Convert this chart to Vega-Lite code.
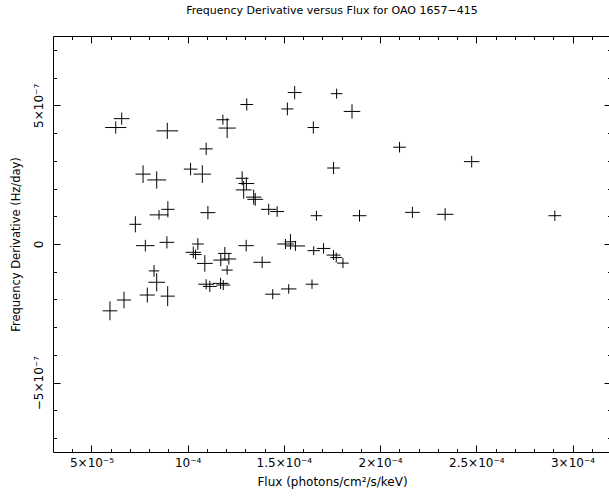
{
  "$schema": "https://vega.github.io/schema/vega-lite/v6.json",
  "width": 558,
  "height": 416,
  "autosize": {"type": "none"},
  "padding": {"left": 53, "top": 36, "right": 0, "bottom": 45},
  "background": "white",
  "title": {"text": "Frequency Derivative versus Flux for OAO 1657−415", "font": "DejaVu Sans", "fontSize": 11, "fontWeight": "normal", "color": "black", "anchor": "middle", "offset": 20},
  "config": {"view": {"stroke": null}},
  "data": {"values": [
    {"flux": 6.57e-5, "dflux": 0.41e-5, "fdot": 4.52e-7, "dfdot": 0.22e-7},
    {"flux": 6.26e-5, "dflux": 0.55e-5, "fdot": 4.20e-7, "dfdot": 0.22e-7},
    {"flux": 8.94e-5, "dflux": 0.56e-5, "fdot": 4.08e-7, "dfdot": 0.29e-7},
    {"flux": 7.68e-5, "dflux": 0.39e-5, "fdot": 2.52e-7, "dfdot": 0.32e-7},
    {"flux": 8.39e-5, "dflux": 0.49e-5, "fdot": 2.31e-7, "dfdot": 0.31e-7},
    {"flux": 10.15e-5, "dflux": 0.35e-5, "fdot": 2.70e-7, "dfdot": 0.22e-7},
    {"flux": 8.97e-5, "dflux": 0.34e-5, "fdot": 1.25e-7, "dfdot": 0.29e-7},
    {"flux": 8.51e-5, "dflux": 0.49e-5, "fdot": 1.05e-7, "dfdot": 0.17e-7},
    {"flux": 7.28e-5, "dflux": 0.31e-5, "fdot": 0.71e-7, "dfdot": 0.29e-7},
    {"flux": 11.83e-5, "dflux": 0.33e-5, "fdot": 4.48e-7, "dfdot": 0.18e-7},
    {"flux": 12.05e-5, "dflux": 0.45e-5, "fdot": 4.18e-7, "dfdot": 0.36e-7},
    {"flux": 10.96e-5, "dflux": 0.34e-5, "fdot": 3.43e-7, "dfdot": 0.22e-7},
    {"flux": 10.76e-5, "dflux": 0.45e-5, "fdot": 2.52e-7, "dfdot": 0.32e-7},
    {"flux": 15.56e-5, "dflux": 0.36e-5, "fdot": 5.46e-7, "dfdot": 0.24e-7},
    {"flux": 17.74e-5, "dflux": 0.30e-5, "fdot": 5.42e-7, "dfdot": 0.18e-7},
    {"flux": 13.07e-5, "dflux": 0.33e-5, "fdot": 5.03e-7, "dfdot": 0.22e-7},
    {"flux": 15.18e-5, "dflux": 0.31e-5, "fdot": 4.87e-7, "dfdot": 0.23e-7},
    {"flux": 18.54e-5, "dflux": 0.43e-5, "fdot": 4.78e-7, "dfdot": 0.26e-7},
    {"flux": 16.53e-5, "dflux": 0.30e-5, "fdot": 4.20e-7, "dfdot": 0.22e-7},
    {"flux": 21.01e-5, "dflux": 0.33e-5, "fdot": 3.49e-7, "dfdot": 0.19e-7},
    {"flux": 17.58e-5, "dflux": 0.33e-5, "fdot": 2.74e-7, "dfdot": 0.22e-7},
    {"flux": 12.83e-5, "dflux": 0.33e-5, "fdot": 2.37e-7, "dfdot": 0.25e-7},
    {"flux": 13.05e-5, "dflux": 0.41e-5, "fdot": 2.18e-7, "dfdot": 0.22e-7},
    {"flux": 12.91e-5, "dflux": 0.41e-5, "fdot": 1.95e-7, "dfdot": 0.32e-7},
    {"flux": 13.43e-5, "dflux": 0.40e-5, "fdot": 1.69e-7, "dfdot": 0.27e-7},
    {"flux": 13.51e-5, "dflux": 0.41e-5, "fdot": 1.61e-7, "dfdot": 0.23e-7},
    {"flux": 14.21e-5, "dflux": 0.40e-5, "fdot": 1.25e-7, "dfdot": 0.20e-7},
    {"flux": 14.65e-5, "dflux": 0.36e-5, "fdot": 1.17e-7, "dfdot": 0.19e-7},
    {"flux": 11.05e-5, "dflux": 0.39e-5, "fdot": 1.13e-7, "dfdot": 0.24e-7},
    {"flux": 16.69e-5, "dflux": 0.30e-5, "fdot": 1.02e-7, "dfdot": 0.18e-7},
    {"flux": 18.93e-5, "dflux": 0.36e-5, "fdot": 1.02e-7, "dfdot": 0.21e-7},
    {"flux": 24.76e-5, "dflux": 0.40e-5, "fdot": 2.97e-7, "dfdot": 0.21e-7},
    {"flux": 21.68e-5, "dflux": 0.38e-5, "fdot": 1.14e-7, "dfdot": 0.20e-7},
    {"flux": 23.38e-5, "dflux": 0.43e-5, "fdot": 1.07e-7, "dfdot": 0.22e-7},
    {"flux": 29.08e-5, "dflux": 0.33e-5, "fdot": 1.02e-7, "dfdot": 0.19e-7},
    {"flux": 7.80e-5, "dflux": 0.48e-5, "fdot": -0.06e-7, "dfdot": 0.21e-7},
    {"flux": 8.92e-5, "dflux": 0.38e-5, "fdot": 0.06e-7, "dfdot": 0.22e-7},
    {"flux": 10.53e-5, "dflux": 0.31e-5, "fdot": 0.00e-7, "dfdot": 0.21e-7},
    {"flux": 10.29e-5, "dflux": 0.40e-5, "fdot": -0.30e-7, "dfdot": 0.21e-7},
    {"flux": 10.41e-5, "dflux": 0.31e-5, "fdot": -0.38e-7, "dfdot": 0.18e-7},
    {"flux": 10.89e-5, "dflux": 0.41e-5, "fdot": -0.70e-7, "dfdot": 0.30e-7},
    {"flux": 11.93e-5, "dflux": 0.35e-5, "fdot": -0.34e-7, "dfdot": 0.23e-7},
    {"flux": 11.72e-5, "dflux": 0.39e-5, "fdot": -0.58e-7, "dfdot": 0.22e-7},
    {"flux": 12.14e-5, "dflux": 0.38e-5, "fdot": -0.54e-7, "dfdot": 0.20e-7},
    {"flux": 12.05e-5, "dflux": 0.29e-5, "fdot": -0.94e-7, "dfdot": 0.17e-7},
    {"flux": 13.04e-5, "dflux": 0.40e-5, "fdot": -0.06e-7, "dfdot": 0.21e-7},
    {"flux": 13.87e-5, "dflux": 0.45e-5, "fdot": -0.66e-7, "dfdot": 0.21e-7},
    {"flux": 8.25e-5, "dflux": 0.27e-5, "fdot": -0.97e-7, "dfdot": 0.21e-7},
    {"flux": 8.39e-5, "dflux": 0.43e-5, "fdot": -1.38e-7, "dfdot": 0.33e-7},
    {"flux": 7.90e-5, "dflux": 0.39e-5, "fdot": -1.84e-7, "dfdot": 0.27e-7},
    {"flux": 8.96e-5, "dflux": 0.37e-5, "fdot": -1.88e-7, "dfdot": 0.36e-7},
    {"flux": 6.69e-5, "dflux": 0.36e-5, "fdot": -2.02e-7, "dfdot": 0.30e-7},
    {"flux": 5.96e-5, "dflux": 0.38e-5, "fdot": -2.41e-7, "dfdot": 0.34e-7},
    {"flux": 10.96e-5, "dflux": 0.41e-5, "fdot": -1.45e-7, "dfdot": 0.18e-7},
    {"flux": 11.15e-5, "dflux": 0.36e-5, "fdot": -1.53e-7, "dfdot": 0.20e-7},
    {"flux": 11.71e-5, "dflux": 0.41e-5, "fdot": -1.42e-7, "dfdot": 0.20e-7},
    {"flux": 11.85e-5, "dflux": 0.36e-5, "fdot": -1.48e-7, "dfdot": 0.18e-7},
    {"flux": 14.42e-5, "dflux": 0.39e-5, "fdot": -1.81e-7, "dfdot": 0.18e-7},
    {"flux": 15.25e-5, "dflux": 0.40e-5, "fdot": -1.62e-7, "dfdot": 0.17e-7},
    {"flux": 16.46e-5, "dflux": 0.33e-5, "fdot": -1.45e-7, "dfdot": 0.17e-7},
    {"flux": 15.08e-5, "dflux": 0.43e-5, "fdot": 0.00e-7, "dfdot": 0.18e-7},
    {"flux": 15.34e-5, "dflux": 0.30e-5, "fdot": 0.08e-7, "dfdot": 0.28e-7},
    {"flux": 15.60e-5, "dflux": 0.50e-5, "fdot": -0.07e-7, "dfdot": 0.18e-7},
    {"flux": 16.55e-5, "dflux": 0.32e-5, "fdot": -0.24e-7, "dfdot": 0.16e-7},
    {"flux": 17.06e-5, "dflux": 0.35e-5, "fdot": -0.16e-7, "dfdot": 0.19e-7},
    {"flux": 17.58e-5, "dflux": 0.36e-5, "fdot": -0.40e-7, "dfdot": 0.18e-7},
    {"flux": 17.72e-5, "dflux": 0.31e-5, "fdot": -0.49e-7, "dfdot": 0.18e-7},
    {"flux": 18.07e-5, "dflux": 0.30e-5, "fdot": -0.69e-7, "dfdot": 0.18e-7}
  ]},
  "layer": [
    {
      "mark": {"type": "errorbar", "rule": {"color": "black", "strokeWidth": 1}},
      "encoding": {
        "x": {"field": "flux", "type": "quantitative",
          "scale": {"domain": [3e-5, 3.2e-4], "nice": false, "zero": false},
          "axis": {"orient": "bottom", "title": "Flux (photons/cm²/s/keV)",
            "values": [4e-5,5e-5,6e-5,7e-5,8e-5,9e-5,1e-4,1.1e-4,1.2e-4,1.3e-4,1.4e-4,1.5e-4,1.6e-4,1.7e-4,1.8e-4,1.9e-4,2e-4,2.1e-4,2.2e-4,2.3e-4,2.4e-4,2.5e-4,2.6e-4,2.7e-4,2.8e-4,2.9e-4,3e-4,3.1e-4],
            "labelExpr": "round(datum.value*1e6)==50?'5×10⁻⁵':round(datum.value*1e6)==100?'10⁻⁴':round(datum.value*1e6)==150?'1.5×10⁻⁴':round(datum.value*1e6)==200?'2×10⁻⁴':round(datum.value*1e6)==250?'2.5×10⁻⁴':round(datum.value*1e6)==300?'3×10⁻⁴':''",
            "tickSize": {"condition": {"test": "round(datum.value*1e6) % 50 == 0", "value": -7}, "value": -3.5},
            "grid": false, "domainColor": "black", "tickColor": "black", "labelColor": "black", "titleColor": "black",
            "labelFont": "DejaVu Sans", "labelFontSize": 12, "titleFont": "DejaVu Sans", "titleFontSize": 12, "titleFontWeight": "normal",
            "labelPadding": 12, "titlePadding": 5, "labelOverlap": false, "labelFlush": false}},
        "xError": {"field": "dflux"},
        "y": {"field": "fdot", "type": "quantitative",
          "scale": {"domain": [-7.5e-7, 7.5e-7], "nice": false, "zero": false},
          "axis": {"orient": "left", "title": "Frequency Derivative (Hz/day)",
            "values": [-7e-7,-6e-7,-5e-7,-4e-7,-3e-7,-2e-7,-1e-7,0,1e-7,2e-7,3e-7,4e-7,5e-7,6e-7,7e-7],
            "labelExpr": "round(datum.value*1e8)==50?'5×10⁻⁷':round(datum.value*1e8)==0?'0':round(datum.value*1e8)==-50?'−5×10⁻⁷':''",
            "tickSize": {"condition": {"test": "abs(round(datum.value*1e8)) % 50 == 0", "value": -7}, "value": -3.5},
            "labelAngle": 270, "labelAlign": "center", "labelBaseline": "bottom",
            "grid": false, "domainColor": "black", "tickColor": "black", "labelColor": "black", "titleColor": "black",
            "labelFont": "DejaVu Sans", "labelFontSize": 12, "titleFont": "DejaVu Sans", "titleFontSize": 11.5, "titleFontWeight": "normal",
            "labelPadding": 15, "titlePadding": 7, "labelOverlap": false, "labelFlush": false}}
      }
    },
    {
      "mark": {"type": "errorbar", "rule": {"color": "black", "strokeWidth": 1}},
      "encoding": {
        "x": {"field": "flux", "type": "quantitative",
          "scale": {"domain": [3e-5, 3.2e-4], "nice": false, "zero": false},
          "axis": {"orient": "top", "title": null, "labels": false,
            "values": [4e-5,5e-5,6e-5,7e-5,8e-5,9e-5,1e-4,1.1e-4,1.2e-4,1.3e-4,1.4e-4,1.5e-4,1.6e-4,1.7e-4,1.8e-4,1.9e-4,2e-4,2.1e-4,2.2e-4,2.3e-4,2.4e-4,2.5e-4,2.6e-4,2.7e-4,2.8e-4,2.9e-4,3e-4,3.1e-4],
            "tickSize": {"condition": {"test": "round(datum.value*1e6) % 50 == 0", "value": -7}, "value": -3.5},
            "grid": false, "domainColor": "black", "tickColor": "black"}},
        "y": {"field": "fdot", "type": "quantitative",
          "scale": {"domain": [-7.5e-7, 7.5e-7], "nice": false, "zero": false},
          "axis": {"orient": "right", "title": null, "labels": false,
            "values": [-7e-7,-6e-7,-5e-7,-4e-7,-3e-7,-2e-7,-1e-7,0,1e-7,2e-7,3e-7,4e-7,5e-7,6e-7,7e-7],
            "tickSize": {"condition": {"test": "abs(round(datum.value*1e8)) % 50 == 0", "value": -7}, "value": -3.5},
            "grid": false, "domainColor": "black", "tickColor": "black"}},
        "yError": {"field": "dfdot"}
      }
    }
  ],
  "resolve": {"axis": {"x": "independent", "y": "independent"}}
}
